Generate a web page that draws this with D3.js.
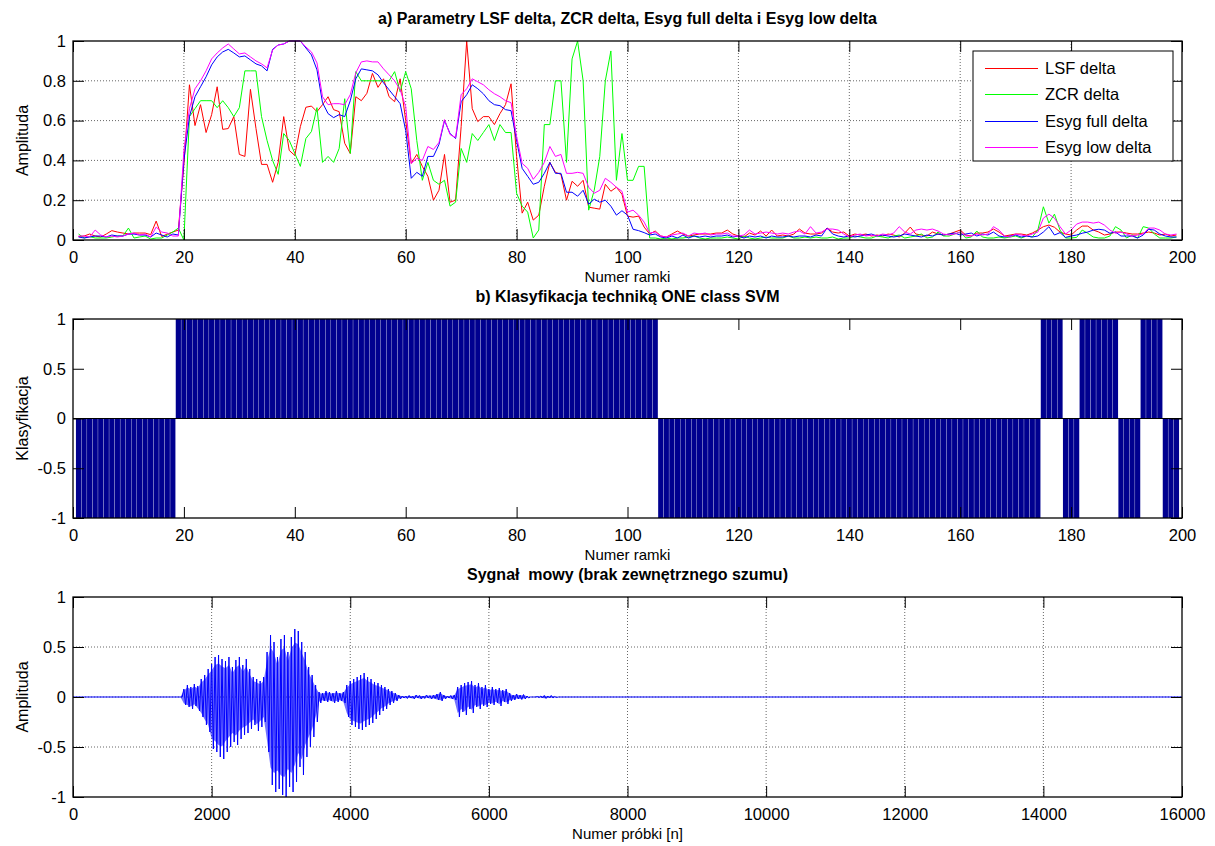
<!DOCTYPE html>
<html>
<head>
<meta charset="utf-8">
<script src="https://cdn.jsdelivr.net/npm/d3@7"></script>
<style>
body { margin: 0; background: #fff; }
svg text { font-family: "Liberation Sans", Arial, sans-serif; fill: #000; }
</style>
</head>
<body>
<svg id="chart" width="1215" height="846"></svg>
<script>
// a) delta parameters, frames 1..199
const lsfDelta = [
  0.017,0.02,0.03,0.02,0.015,0.03,0.047,0.04,0.035,0.03,
  0.035,0.035,0.035,0.027,0.095,0.017,0.03,0.04,0.05,0.38,
  0.78,0.575,0.68,0.54,0.63,0.77,0.556,0.56,0.62,0.43,
  0.42,0.757,0.56,0.38,0.38,0.29,0.39,0.62,0.45,0.425,
  0.57,0.667,0.673,0.645,0.68,0.72,0.655,0.645,0.486,0.435,
  0.72,0.70,0.737,0.837,0.767,0.81,0.72,0.695,0.81,0.60,
  0.385,0.43,0.37,0.32,0.20,0.25,0.43,0.19,0.20,0.57,
  1.0,0.66,0.595,0.62,0.62,0.58,0.635,0.68,0.785,0.42,
  0.135,0.19,0.10,0.125,0.27,0.39,0.34,0.33,0.20,0.295,
  0.27,0.30,0.165,0.16,0.155,0.28,0.245,0.265,0.23,0.12,
  0.115,0.12,0.065,0.03,0.045,0.02,0.015,0.03,0.045,0.03,
  0.02,0.025,0.03,0.03,0.03,0.035,0.035,0.05,0.03,0.02,
  0.015,0.035,0.025,0.045,0.02,0.05,0.02,0.025,0.02,0.03,
  0.055,0.035,0.03,0.03,0.035,0.06,0.04,0.035,0.04,0.02,
  0.03,0.025,0.03,0.02,0.025,0.02,0.03,0.025,0.015,0.035,
  0.065,0.03,0.025,0.02,0.04,0.03,0.025,0.03,0.04,0.05,
  0.025,0.02,0.035,0.035,0.04,0.055,0.04,0.02,0.025,0.03,
  0.03,0.025,0.035,0.05,0.067,0.075,0.064,0.04,0.03,0.025,
  0.05,0.07,0.07,0.05,0.04,0.025,0.03,0.04,0.04,0.035,
  0.03,0.03,0.035,0.04,0.035,0.025,0.03,0.02,0.025
];
const zcrDelta = [
  0.03,0.01,0.017,0.01,0.01,0.01,0.015,0.02,0.02,0.06,
  0.01,0.015,0.02,0.005,0.01,0.01,0.025,0.04,0.06,0.0,
  0.62,0.66,0.70,0.70,0.70,0.665,0.70,0.665,0.62,0.665,
  0.85,0.85,0.85,0.62,0.50,0.40,0.33,0.535,0.50,0.435,
  0.37,0.51,0.545,0.665,0.39,0.42,0.39,0.46,0.71,0.435,
  0.846,0.80,0.80,0.80,0.80,0.80,0.80,0.846,0.745,0.846,
  0.76,0.50,0.30,0.39,0.30,0.28,0.30,0.17,0.19,0.46,
  0.39,0.535,0.50,0.54,0.58,0.50,0.58,0.54,0.54,0.235,
  0.17,0.14,0.01,0.05,0.58,0.58,0.80,0.80,0.39,0.91,
  1.0,0.80,0.15,0.25,0.42,0.80,0.95,0.30,0.535,0.30,
  0.30,0.37,0.37,0.01,0.01,0.005,0.01,0.005,0.01,0.01,
  0.015,0.02,0.01,0.005,0.01,0.01,0.01,0.015,0.01,0.005,
  0.02,0.01,0.005,0.01,0.015,0.01,0.01,0.01,0.02,0.01,
  0.01,0.015,0.01,0.015,0.01,0.01,0.015,0.005,0.01,0.01,
  0.02,0.015,0.01,0.01,0.02,0.015,0.01,0.02,0.025,0.01,
  0.015,0.02,0.03,0.01,0.015,0.04,0.02,0.02,0.03,0.04,
  0.01,0.015,0.045,0.015,0.01,0.01,0.015,0.01,0.015,0.02,
  0.01,0.02,0.015,0.05,0.167,0.085,0.13,0.05,0.01,0.01,
  0.013,0.05,0.034,0.015,0.01,0.01,0.02,0.067,0.05,0.01,
  0.025,0.01,0.067,0.06,0.03,0.01,0.01,0.01,0.015
];
const esygFullDelta = [
  0.015,0.01,0.015,0.02,0.02,0.015,0.025,0.02,0.02,0.03,
  0.03,0.025,0.025,0.015,0.035,0.025,0.015,0.03,0.025,0.40,
  0.62,0.72,0.77,0.82,0.88,0.92,0.945,0.958,0.94,0.92,
  0.925,0.905,0.885,0.875,0.85,0.958,0.98,0.985,1.0,1.0,
  1.0,0.965,0.93,0.855,0.69,0.635,0.615,0.63,0.62,0.70,
  0.81,0.86,0.855,0.85,0.83,0.79,0.755,0.72,0.685,0.55,
  0.31,0.34,0.32,0.42,0.42,0.48,0.60,0.535,0.51,0.695,
  0.73,0.78,0.76,0.735,0.70,0.68,0.675,0.655,0.65,0.50,
  0.36,0.32,0.28,0.29,0.335,0.39,0.335,0.335,0.24,0.24,
  0.22,0.25,0.18,0.205,0.19,0.20,0.17,0.125,0.147,0.125,
  0.054,0.047,0.037,0.025,0.03,0.015,0.01,0.02,0.01,0.025,
  0.01,0.02,0.015,0.02,0.015,0.02,0.02,0.025,0.015,0.02,
  0.01,0.02,0.015,0.02,0.01,0.02,0.015,0.015,0.02,0.015,
  0.02,0.02,0.015,0.025,0.02,0.06,0.03,0.02,0.015,0.02,
  0.015,0.02,0.025,0.03,0.02,0.025,0.02,0.015,0.02,0.03,
  0.025,0.02,0.015,0.025,0.02,0.03,0.025,0.03,0.035,0.025,
  0.03,0.035,0.02,0.03,0.025,0.04,0.02,0.015,0.02,0.025,
  0.015,0.02,0.015,0.02,0.04,0.067,0.025,0.037,0.013,0.02,
  0.025,0.034,0.04,0.05,0.054,0.05,0.034,0.04,0.02,0.02,
  0.02,0.01,0.025,0.054,0.05,0.03,0.02,0.015,0.015
];
const esygLowDelta = [
  0.02,0.02,0.015,0.05,0.025,0.015,0.02,0.015,0.02,0.03,
  0.035,0.025,0.03,0.015,0.065,0.04,0.035,0.02,0.02,0.45,
  0.66,0.76,0.80,0.85,0.91,0.94,0.965,0.985,0.96,0.935,
  0.94,0.92,0.90,0.885,0.865,0.955,0.98,0.985,1.0,1.0,
  1.0,0.97,0.945,0.89,0.72,0.68,0.685,0.685,0.68,0.73,
  0.84,0.895,0.90,0.895,0.895,0.86,0.83,0.80,0.755,0.67,
  0.385,0.41,0.40,0.47,0.455,0.49,0.605,0.53,0.515,0.73,
  0.76,0.81,0.795,0.78,0.755,0.735,0.72,0.70,0.69,0.52,
  0.385,0.36,0.305,0.34,0.39,0.47,0.42,0.43,0.335,0.335,
  0.34,0.335,0.265,0.235,0.25,0.31,0.29,0.265,0.245,0.14,
  0.15,0.125,0.09,0.035,0.04,0.02,0.015,0.025,0.03,0.035,
  0.02,0.035,0.03,0.035,0.025,0.03,0.03,0.035,0.02,0.02,
  0.025,0.05,0.03,0.035,0.04,0.035,0.03,0.035,0.03,0.04,
  0.045,0.03,0.067,0.035,0.04,0.055,0.055,0.05,0.03,0.015,
  0.025,0.03,0.02,0.025,0.02,0.03,0.025,0.035,0.067,0.04,
  0.03,0.05,0.055,0.05,0.055,0.045,0.03,0.025,0.03,0.04,
  0.02,0.02,0.03,0.025,0.03,0.067,0.05,0.02,0.015,0.03,
  0.025,0.02,0.03,0.04,0.11,0.13,0.11,0.067,0.03,0.05,
  0.08,0.09,0.09,0.085,0.09,0.075,0.05,0.034,0.04,0.03,
  0.02,0.025,0.03,0.06,0.06,0.05,0.03,0.025,0.03
];
const seriesNames = ["LSF delta", "ZCR delta", "Esyg full delta", "Esyg low delta"];
const seriesColors = ["#ff0000", "#00ff00", "#0000ff", "#ff00ff"];

// b) one-class SVM decision per frame 1..199
const svmClass = [
  -1,-1,-1,-1,-1,-1,-1,-1,-1,-1,-1,-1,-1,-1,-1,-1,-1,-1,
  1,1,1,1,1,1,1,1,1,1,1,1,1,1,1,1,1,1,1,1,1,1,1,1,1,1,1,1,1,1,1,1,1,1,1,1,1,1,1,1,1,1,1,1,
  1,1,1,1,1,1,1,1,1,1,1,1,1,1,1,1,1,1,1,1,1,1,1,1,1,1,1,1,1,1,1,1,1,1,1,1,1,1,1,1,1,1,1,
  -1,-1,-1,-1,-1,-1,-1,-1,-1,-1,-1,-1,-1,-1,-1,-1,-1,-1,-1,-1,-1,-1,-1,-1,-1,-1,-1,-1,-1,-1,
  -1,-1,-1,-1,-1,-1,-1,-1,-1,-1,-1,-1,-1,-1,-1,-1,-1,-1,-1,-1,-1,-1,-1,-1,-1,-1,-1,-1,-1,-1,
  -1,-1,-1,-1,-1,-1,-1,-1,-1,
  1,1,1,1, -1,-1,-1, 1,1,1,1,1,1,1, -1,-1,-1,-1, 1,1,1,1, -1,-1,-1
];

// c) speech signal envelope, per 50-sample block from sample 1550
const waveStart = 1550;
const waveStep = 50;
const waveMax = [
  0.0,0.08,0.12,0.10,0.13,0.11,0.18,0.22,0.28,0.33,
  0.40,0.42,0.38,0.36,0.40,0.30,0.37,0.40,0.32,0.38,
  0.28,0.20,0.18,0.16,0.20,0.45,0.62,0.55,0.40,0.58,
  0.62,0.45,0.60,0.68,0.66,0.55,0.45,0.30,0.22,0.12,
  0.05,0.04,0.06,0.05,0.04,0.06,0.04,0.05,0.12,0.16,
  0.18,0.20,0.22,0.24,0.20,0.18,0.15,0.14,0.12,0.10,
  0.08,0.06,0.04,0.02,0.01,0.01,0.015,0.01,0.02,0.015,
  0.01,0.02,0.015,0.02,0.03,0.05,0.02,0.01,0.015,0.02,
  0.10,0.12,0.14,0.15,0.16,0.12,0.14,0.10,0.12,0.08,
  0.10,0.08,0.09,0.07,0.08,0.04,0.02,0.03,0.02,0.025,
  0.01,0.0,0.0,0.005,0.01,0.015,0.01,0.015,0.005,0.0
];
const waveMin = [
  0.0,-0.08,-0.10,-0.12,-0.09,-0.14,-0.20,-0.28,-0.35,-0.52,
  -0.55,-0.60,-0.62,-0.55,-0.50,-0.45,-0.48,-0.42,-0.38,-0.36,
  -0.32,-0.28,-0.34,-0.30,-0.25,-0.55,-0.88,-0.95,-0.92,-0.98,
  -1.0,-0.90,-0.95,-0.85,-0.70,-0.78,-0.60,-0.50,-0.40,-0.25,
  -0.06,-0.04,-0.05,-0.04,-0.06,-0.05,-0.04,-0.06,-0.20,-0.28,
  -0.30,-0.32,-0.33,-0.30,-0.28,-0.26,-0.22,-0.18,-0.14,-0.12,
  -0.08,-0.06,-0.04,-0.02,-0.01,-0.015,-0.01,-0.02,-0.01,-0.02,
  -0.015,-0.01,-0.02,-0.015,-0.03,-0.04,-0.02,-0.01,-0.02,-0.03,
  -0.20,-0.15,-0.18,-0.12,-0.16,-0.10,-0.12,-0.09,-0.10,-0.07,
  -0.08,-0.06,-0.09,-0.05,-0.07,-0.04,-0.03,-0.02,-0.025,-0.02,
  -0.01,0,0,-0.005,-0.01,-0.015,-0.01,-0.01,-0.005,0
];

const frameTicks = [0,20,40,60,80,100,120,140,160,180,200];
const ampTicksA = [0,0.2,0.4,0.6,0.8,1];
const ampTicksB = [-1,-0.5,0,0.5,1];
const sampleTicks = [0,2000,4000,6000,8000,10000,12000,14000,16000];

const left = 73, right = 1182, tickLen = 11;
const svg = d3.select("#chart");
const fmt = d => String(d);

function drawGrid(top, bottom, x, y, xTicks, yTicks) {
  const g = svg.append("g");
  g.selectAll(".gx").data(xTicks.filter(d => x(d) > left + 1 && x(d) < right - 1)).join("line")
    .attr("x1", d => x(d)).attr("x2", d => x(d)).attr("y1", top).attr("y2", bottom)
    .attr("stroke", "#666").attr("stroke-dasharray", "1,2");
  g.selectAll(".gy").data(yTicks.filter(d => y(d) > top + 1 && y(d) < bottom - 1)).join("line")
    .attr("y1", d => y(d)).attr("y2", d => y(d)).attr("x1", left).attr("x2", right)
    .attr("stroke", "#666").attr("stroke-dasharray", "1,2");
}

function drawFrame(top, bottom, x, y, xTicks, yTicks) {
  const g = svg.append("g");
  g.append("g").attr("transform", `translate(0,${bottom})`)
    .call(d3.axisBottom(x).tickValues(xTicks).tickFormat(fmt).tickSize(-tickLen).tickSizeOuter(0).tickPadding(11));
  g.append("g").attr("transform", `translate(0,${top})`)
    .call(d3.axisTop(x).tickValues(xTicks).tickFormat("").tickSize(-tickLen).tickSizeOuter(0));
  g.append("g").attr("transform", `translate(${left},0)`)
    .call(d3.axisLeft(y).tickValues(yTicks).tickFormat(fmt).tickSize(-tickLen).tickSizeOuter(0).tickPadding(7));
  g.append("g").attr("transform", `translate(${right},0)`)
    .call(d3.axisRight(y).tickValues(yTicks).tickFormat("").tickSize(-tickLen).tickSizeOuter(0));
  g.selectAll(".domain").remove();
  g.selectAll(".tick line").attr("stroke", "#000");
  g.selectAll(".tick text").style("font-size", "16.5px").attr("fill", "#000");
  g.append("rect").attr("x", left).attr("y", top).attr("width", right - left).attr("height", bottom - top)
    .attr("fill", "none").attr("stroke", "#000").attr("stroke-width", 1.3);
}

function labels(top, bottom, title, xLabel, yLabel) {
  const cx = (left + right) / 2;
  svg.append("text").attr("x", cx).attr("y", top - 17).attr("text-anchor", "middle")
    .style("font-size", "16px").style("font-weight", "bold").style("white-space", "pre").text(title);
  svg.append("text").attr("x", cx).attr("y", bottom + 42).attr("text-anchor", "middle")
    .style("font-size", "15px").text(xLabel);
  svg.append("text").attr("transform", `translate(28,${(top + bottom) / 2}) rotate(-90)`)
    .attr("text-anchor", "middle").style("font-size", "16px").text(yLabel);
}

// ---------- panel a ----------
{
  const top = 41, bottom = 240;
  const x = d3.scaleLinear().domain([0, 200]).range([left, right]);
  const y = d3.scaleLinear().domain([0, 1]).range([bottom, top]);
  drawGrid(top, bottom, x, y, frameTicks, ampTicksA);
  const line = d3.line().x((d, i) => x(i + 1)).y(d => y(d));
  const all = [lsfDelta, zcrDelta, esygFullDelta, esygLowDelta];
  svg.append("g").selectAll("path").data(all).join("path")
    .attr("d", line).attr("fill", "none").attr("stroke-width", 1)
    .attr("stroke", (d, i) => seriesColors[i]);
  drawFrame(top, bottom, x, y, frameTicks, ampTicksA);
  labels(top, bottom, "a) Parametry LSF delta, ZCR delta, Esyg full delta i Esyg low delta", "Numer ramki", "Amplituda");

  // legend
  const lg = svg.append("g");
  lg.append("rect").attr("x", 973).attr("y", 51).attr("width", 200).attr("height", 110)
    .attr("fill", "#fff").attr("stroke", "#000").attr("stroke-width", 1);
  const rowY = [68, 94, 121, 147];
  seriesNames.forEach((name, i) => {
    lg.append("line").attr("x1", 985).attr("x2", 1038).attr("y1", rowY[i] + 0.5).attr("y2", rowY[i] + 0.5)
      .attr("stroke", seriesColors[i]).attr("stroke-width", 1.2);
    lg.append("text").attr("x", 1045).attr("y", rowY[i] + 6).style("font-size", "16.5px").text(name);
  });
}

// ---------- panel b ----------
{
  const top = 319, bottom = 518;
  const x = d3.scaleLinear().domain([0, 200]).range([left, right]);
  const y = d3.scaleLinear().domain([-1, 1]).range([bottom, top]);
  const bw = x(0.94) - x(0);
  svg.append("g").selectAll("rect").data(svmClass).join("rect")
    .attr("x", (d, i) => x(i + 1) - bw / 2)
    .attr("width", bw)
    .attr("y", d => y(Math.max(0, d)))
    .attr("height", d => Math.abs(y(d) - y(0)))
    .attr("fill", "#00008f");
  svg.append("line").attr("x1", left).attr("x2", right).attr("y1", y(0)).attr("y2", y(0))
    .attr("stroke", "#000").attr("stroke-width", 1);
  drawFrame(top, bottom, x, y, frameTicks, ampTicksB);
  labels(top, bottom, "b) Klasyfikacja techniką ONE class SVM", "Numer ramki", "Klasyfikacja");
}

// ---------- panel c ----------
{
  const top = 597, bottom = 797;
  const x = d3.scaleLinear().domain([0, 16000]).range([left, right]);
  const y = d3.scaleLinear().domain([-1, 1]).range([bottom, top]);
  drawGrid(top, bottom, x, y, sampleTicks, ampTicksB);
  const env = waveMax.map((v, i) => ({ n: waveStart + i * waveStep, hi: v, lo: waveMin[i] }));
  svg.append("path").datum(env)
    .attr("d", d3.area().x(d => x(d.n)).y0(d => y(d.lo * 0.8)).y1(d => y(d.hi * 0.8)))
    .attr("fill", "#0000ff").attr("opacity", 0.55);
  const pts = [[0, 0]];
  env.forEach(d => {
    pts.push([d.n, d.hi]);
    pts.push([d.n + waveStep / 2, d.lo]);
  });
  pts.push([16000, 0]);
  svg.append("path").datum(pts)
    .attr("d", d3.line().x(d => x(d[0])).y(d => y(d[1])))
    .attr("fill", "none").attr("stroke", "#0000ff").attr("stroke-width", 1);
  drawFrame(top, bottom, x, y, sampleTicks, ampTicksB);
  labels(top, bottom, "Sygnał  mowy (brak zewnętrznego szumu)", "Numer próbki [n]", "Amplituda");
}
</script>
</body>
</html>
